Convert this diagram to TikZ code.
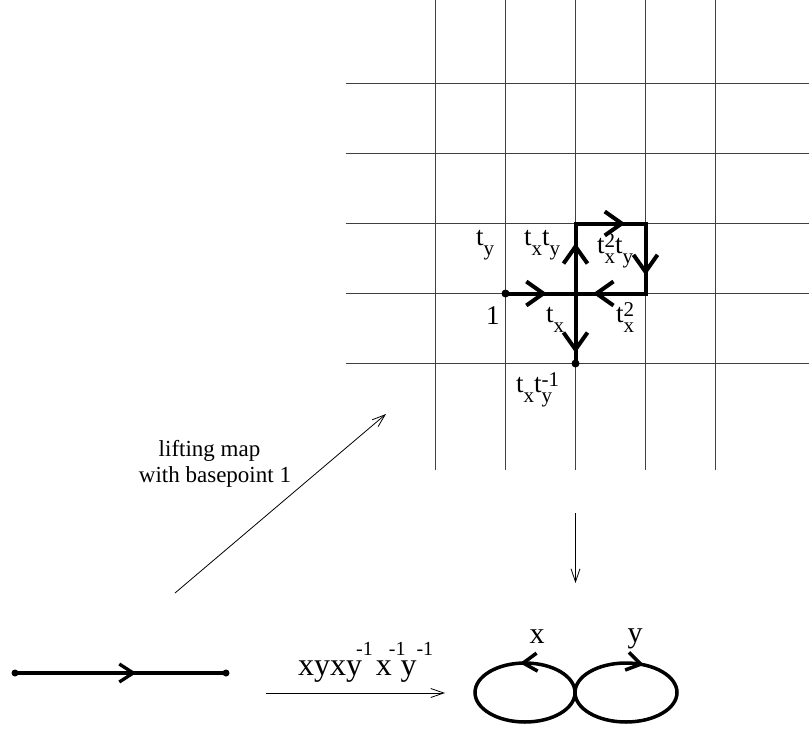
\documentclass[tikz,border=0pt]{standalone}
\usepackage{fontspec}
\setmainfont{Liberation Serif}
\usetikzlibrary{arrows.meta,decorations.markings}
\newcommand{\mysb}[1]{\raisebox{-10pt}{\fontsize{21}{21}\selectfont #1}}
\newcommand{\mysp}[1]{\raisebox{6pt}{\fontsize{21}{21}\selectfont #1}}
\newcommand{\mysbp}[2]{\rlap{\mysp{#1}}\mysb{#2}}
\newcommand{\bigsup}[1]{\raisebox{20pt}{\fontsize{20}{20}\selectfont #1}}
\tikzset{
  gridline/.style={line width=1pt, draw=black!75},
  bigbarb/.tip={Straight Barb[length=17pt,width=24pt]},
  midbarb/.tip={Straight Barb[length=14pt,width=18pt]},
  thinbarb/.tip={Straight Barb[length=13pt,width=9pt]},
  thinarrow/.style={line width=0.8pt, -{thinbarb}},
  lab/.style={anchor=base west, inner sep=0pt, font=\fontsize{27}{27}\selectfont},
  lift/.style={anchor=base, inner sep=0pt, font=\fontsize{23}{23}\selectfont},
  dot/.style={circle, fill=black, inner sep=0pt, minimum size=8pt},
}
\begin{document}
\begin{tikzpicture}[x=1pt,y=-1pt]
\useasboundingbox (0,0) rectangle (809,731);
% grid
\foreach \gx in {435.5,505.5,575.5,645.5,715.5}
  \draw[gridline] (\gx,0) -- (\gx,470);
\foreach \gy in {83.5,153.5,223.5,293.5,363.5}
  \draw[gridline] (345.5,\gy) -- (809,\gy);
% path points
\coordinate (g1) at (505.5,293.5);
\coordinate (g2) at (575.5,293.5);
\coordinate (g3) at (575.5,223.5);
\coordinate (g4) at (645.5,223.5);
\coordinate (g5) at (645.5,293.5);
\coordinate (g6) at (575.5,363.5);
\draw[line width=4pt, line join=miter,
  postaction={decorate, decoration={markings,
    mark=at position 0.0983 with {\arrow{bigbarb}},
    mark=at position 0.2867 with {\arrow{bigbarb}},
    mark=at position 0.4517 with {\arrow{bigbarb}},
    mark=at position 0.6233 with {\arrow{bigbarb}},
    mark=at position 0.7917 with {\arrow{bigbarb}},
    mark=at position 0.975 with {\arrow{bigbarb}}}}]
  (g1) -- (g2) -- (g3) -- (g4) -- (g5) -- (g2) -- (g6);
\node[dot] (d1) at (g1) {};
\node[dot] (d2) at (g6) {};
% grid labels
\node[lab] (ty) at (476,245) {t\mysb{y}};
\node[lab] (txty) at (524,245) {t\mysb{x}t\mysb{y}};
\node[lab] (txxty) at (597,253) {t\mysbp{2}{x}t\mysb{y}};
\node[lab] (one) at (486,324) {1};
\node[lab] (tx) at (546,322) {t\mysb{x}};
\node[lab] (txx) at (616,322) {t\mysbp{2}{x}};
\node[lab] (txtyi) at (516,392) {t\mysb{x}t\mysbp{-1}{y}};
% lifting map arrow
\coordinate (la) at (175,593);
\coordinate (lb) at (386,414);
\draw[thinarrow] (la) -- (lb);
\node[lift] (l1) at (209.5,456) {lifting map};
\node[lift] (l2) at (215,482) {with basepoint 1};
% down arrow
\coordinate (da) at (575.5,513);
\coordinate (db) at (575.5,583);
\draw[thinarrow] (da) -- (db);
% segment
\node[dot, minimum size=7pt] (s1) at (15,673) {};
\node[dot, minimum size=7pt] (s2) at (226,673) {};
\draw[line width=3.3pt,
  postaction={decorate, decoration={markings, mark=at position 0.575 with {\arrow{midbarb}}}}]
  (s1.center) -- (s2.center);
% word arrow
\coordinate (wa) at (266,693);
\coordinate (wb) at (445,693);
\draw[thinarrow] (wa) -- (wb);
\node[anchor=base west, inner sep=0pt, font=\fontsize{32}{32}\selectfont] (word) at (298,675)
  {xyxy\hspace{-6pt}\bigsup{-1}\hspace{3pt}x\hspace{-3pt}\bigsup{-1}\hspace{-5pt}y\bigsup{-1}};
% figure eight
\coordinate (ec) at (575,692.5);
\draw[line width=3.5pt,
  postaction={decorate, decoration={markings, mark=at position 0.27 with {\arrow{midbarb}}}}]
  (ec) arc[start angle=0, end angle=360, x radius=50pt, y radius=29.5pt];
\draw[line width=3.5pt,
  postaction={decorate, decoration={markings, mark=at position 0.32 with {\arrow{midbarb}}}}]
  (ec) arc[start angle=180, end angle=-180, x radius=51pt, y radius=29.5pt];
\node[anchor=base, inner sep=0pt, font=\fontsize{30}{30}\selectfont] (lx) at (537,643) {x};
\node[anchor=base, inner sep=0pt, font=\fontsize{30}{30}\selectfont] (ly) at (635,642) {y};
\end{tikzpicture}
\end{document}
